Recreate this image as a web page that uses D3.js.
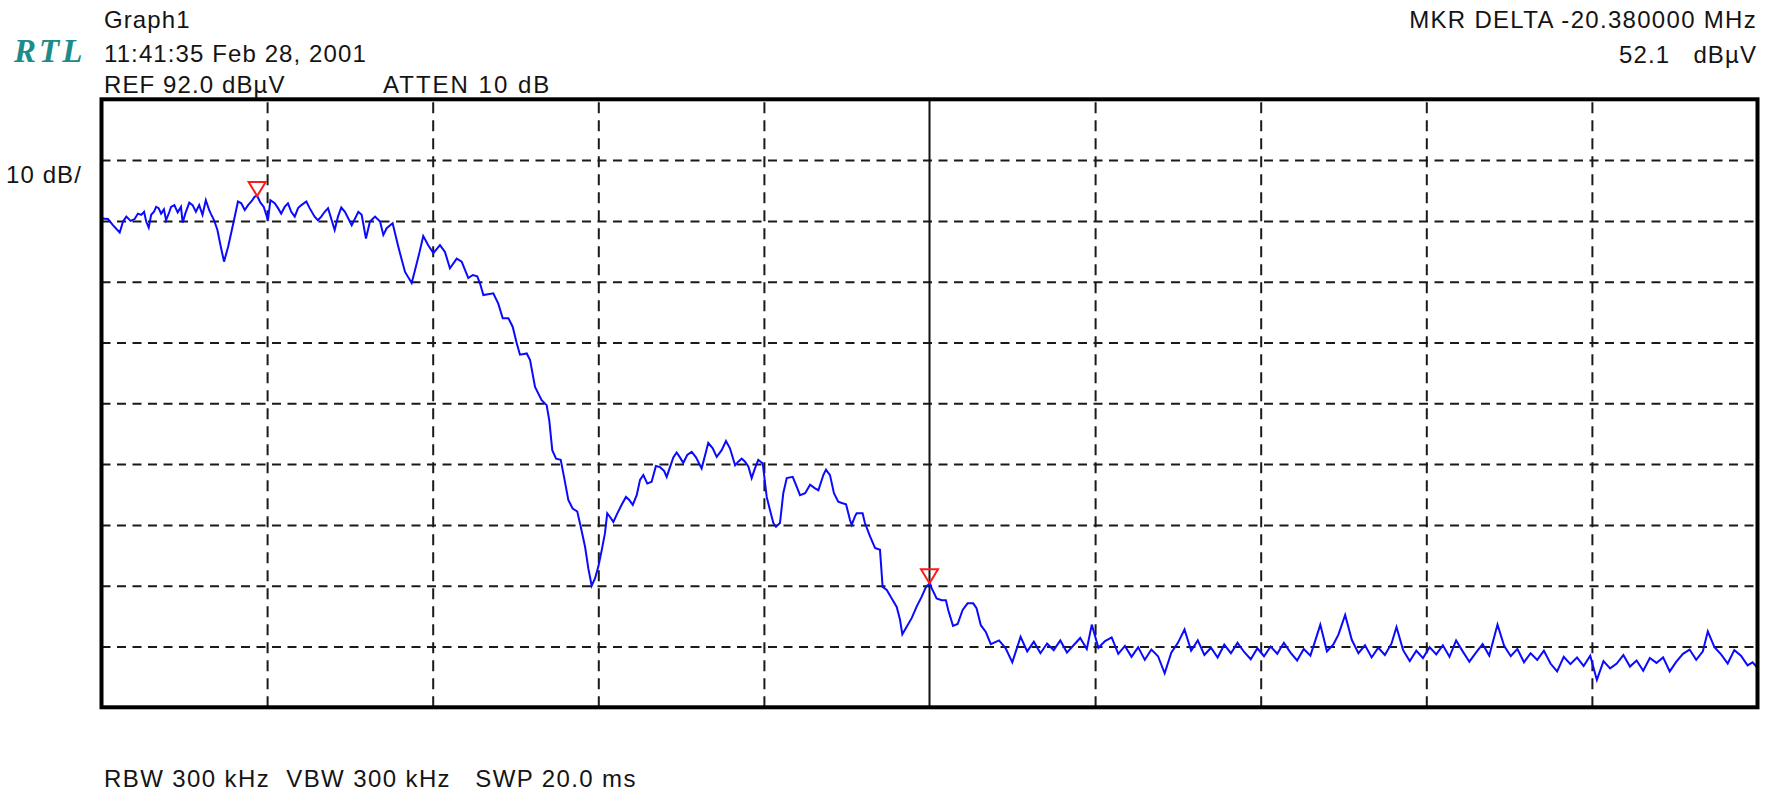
<!DOCTYPE html>
<html>
<head>
<meta charset="utf-8">
<script src="https://cdn.jsdelivr.net/npm/d3@7"></script>
<style>
  body { margin: 0; background: #fff; }
  text { font-family: "Liberation Sans", Arial, sans-serif; fill: #141414; font-size: 24px; letter-spacing: 1.1px; }
</style>
</head>
<body>
<div id="chart"></div>
<script>
// graticule: 10 columns (5 MHz each), REF 92 dBuV, 10 dB/div
const refLevel = 92;
const bottomLevel = -8;
const xGrid = [1, 2, 3, 4, 6, 7, 8, 9];
const yGrid = [2, 12, 22, 32, 42, 52, 62, 72, 82];

// trace position in graticule divisions
const traceX = [
  0.00, 0.039, 0.069, 0.11, 0.13, 0.15, 0.176, 0.20, 0.22, 0.24, 0.257, 0.27, 0.285, 0.30, 0.317,
  0.33, 0.345, 0.36, 0.377, 0.39, 0.41, 0.42, 0.44, 0.46, 0.48, 0.49, 0.506, 0.53, 0.55, 0.57,
  0.59, 0.61, 0.63, 0.65, 0.66, 0.68, 0.70, 0.72, 0.74, 0.765, 0.796, 0.824, 0.844, 0.865, 0.885,
  0.905, 0.925, 0.94, 0.96, 0.98, 1.005, 1.02, 1.046, 1.066, 1.085, 1.106, 1.126, 1.146, 1.167, 1.187,
  1.207, 1.237, 1.257, 1.287, 1.307, 1.327, 1.348, 1.368, 1.408, 1.428, 1.448, 1.47, 1.511, 1.551, 1.571,
  1.597, 1.621, 1.652, 1.682, 1.702, 1.722, 1.758, 1.792, 1.813, 1.833, 1.873, 1.893, 1.919, 1.943, 1.973,
  2.004, 2.044, 2.074, 2.104, 2.145, 2.175, 2.215, 2.242, 2.269, 2.286, 2.306, 2.366, 2.396, 2.423, 2.457,
  2.483, 2.507, 2.527, 2.568, 2.588, 2.618, 2.638, 2.658, 2.688, 2.704, 2.722, 2.745, 2.773, 2.793, 2.819,
  2.845, 2.873, 2.894, 2.920, 2.940, 2.960, 2.980, 3.000, 3.021, 3.040, 3.054, 3.071, 3.091, 3.115, 3.141,
  3.167, 3.187, 3.208, 3.232, 3.252, 3.272, 3.296, 3.322, 3.348, 3.373, 3.397, 3.413, 3.433, 3.453, 3.473,
  3.493, 3.513, 3.537, 3.564, 3.590, 3.624, 3.650, 3.664, 3.691, 3.715, 3.745, 3.771, 3.795, 3.826, 3.845,
  3.866, 3.886, 3.906, 3.926, 3.946, 3.966, 3.993, 4.017, 4.037, 4.057, 4.073, 4.097, 4.117, 4.138, 4.174,
  4.198, 4.218, 4.249, 4.279, 4.309, 4.329, 4.359, 4.375, 4.399, 4.423, 4.449, 4.470, 4.496, 4.520, 4.530,
  4.550, 4.560, 4.596, 4.610, 4.641, 4.671, 4.701, 4.717, 4.742, 4.772, 4.802, 4.822, 4.836, 4.893, 4.923,
  4.953, 4.979, 5.003, 5.013, 5.043, 5.074, 5.099, 5.113, 5.142, 5.17, 5.20, 5.23, 5.264, 5.284, 5.31,
  5.34, 5.37, 5.42, 5.46, 5.50, 5.55, 5.59, 5.63, 5.67, 5.71, 5.75, 5.79, 5.83, 5.87, 5.91,
  5.95, 5.98, 6.02, 6.06, 6.10, 6.14, 6.18, 6.22, 6.26, 6.30, 6.34, 6.38, 6.42, 6.46, 6.50,
  6.54, 6.58, 6.62, 6.66, 6.70, 6.74, 6.78, 6.82, 6.86, 6.90, 6.94, 6.98, 7.02, 7.06, 7.10,
  7.14, 7.18, 7.22, 7.26, 7.30, 7.33, 7.36, 7.40, 7.44, 7.47, 7.51, 7.55, 7.59, 7.63, 7.67,
  7.71, 7.75, 7.79, 7.82, 7.86, 7.90, 7.94, 7.98, 8.02, 8.06, 8.10, 8.14, 8.18, 8.22, 8.26,
  8.30, 8.34, 8.38, 8.43, 8.47, 8.51, 8.55, 8.59, 8.63, 8.67, 8.71, 8.75, 8.79, 8.83, 8.87,
  8.91, 8.95, 8.99, 9.03, 9.07, 9.11, 9.15, 9.19, 9.23, 9.27, 9.31, 9.35, 9.39, 9.43, 9.47,
  9.51, 9.55, 9.59, 9.63, 9.67, 9.70, 9.74, 9.78, 9.82, 9.86, 9.90, 9.94, 9.97, 10.0
];
// trace level, dBuV
const traceDb = [
  72.4, 72.3, 71.3, 70.1, 71.9, 72.7, 72.0, 72.3, 73.2, 73.0, 73.5, 71.9, 70.9, 73.0, 73.5,
  74.3, 74.1, 73.2, 73.9, 72.1, 73.5, 74.3, 74.6, 73.4, 74.3, 71.7, 73.2, 75.0, 74.6, 73.5,
  74.6, 73.0, 75.4, 73.8, 73.2, 72.1, 70.5, 67.8, 65.3, 67.8, 71.6, 75.2, 74.9, 73.8, 74.6,
  75.2, 76.0, 76.1, 75.0, 74.3, 72.1, 75.4, 74.9, 74.1, 73.2, 74.3, 74.9, 73.5, 72.7, 74.1,
  74.6, 75.2, 74.1, 72.7, 72.1, 72.7, 73.5, 74.1, 70.5, 72.7, 74.2, 73.5, 71.3, 73.5, 73.0,
  69.1, 71.9, 72.7, 71.9, 69.7, 70.8, 71.6, 67.8, 65.6, 63.6, 61.8, 63.9, 66.7, 69.5, 68.0,
  66.7, 68.0, 66.9, 64.2, 65.8, 65.3, 62.6, 63.1, 62.9, 61.7, 59.8, 60.1, 58.4, 56.0, 56.0,
  54.6, 51.9, 50.0, 50.2, 49.1, 44.7, 43.6, 42.5, 41.7, 39.2, 34.3, 32.9, 32.7, 29.9, 26.1,
  24.7, 24.2, 21.7, 18.4, 14.8, 12.0, 13.2, 15.1, 17.9, 20.6, 23.9, 23.3, 22.5, 23.9, 25.3,
  26.6, 26.1, 25.3, 26.9, 29.4, 30.2, 28.8, 29.1, 31.7, 31.5, 30.9, 29.9, 31.5, 33.1, 33.9,
  33.1, 32.2, 33.5, 34.0, 33.1, 31.3, 34.0, 35.5, 34.6, 33.2, 34.3, 35.8, 34.6, 31.8, 32.4,
  32.9, 32.4, 31.6, 29.7, 31.3, 32.7, 32.1, 26.6, 24.4, 22.3, 21.7, 22.3, 27.2, 29.7, 29.9,
  28.3, 26.9, 27.2, 28.6, 28.0, 27.7, 30.2, 31.1, 30.2, 27.2, 25.8, 25.6, 25.4, 22.8, 22.0,
  23.4, 23.9, 23.9, 22.3, 20.1, 18.2, 17.9, 11.8, 11.3, 9.9, 8.5, 6.4, 4.0, 6.7, 8.6,
  10.2, 11.8, 12.4, 11.6, 9.9, 9.6, 9.6, 8.0, 5.4, 5.7, 8.0, 9.1, 9.1, 8.3, 5.5,
  4.4, 2.4, 3.0, 1.7, -0.6, 3.6, 1.2, 2.8, 0.9, 2.5, 1.4, 3.0, 1.0, 2.2, 3.4,
  1.6, 5.6, 1.8, 2.9, 3.5, 0.8, 2.1, 0.3, 1.9, -0.2, 1.5, 0.4, -2.4, 1.0, 2.6,
  4.8, 1.3, 3.0, 0.6, 1.8, 0.2, 2.3, 0.9, 2.6, 1.1, -0.1, 1.7, 0.4, 2.0, 0.8,
  2.6, 1.0, -0.3, 1.6, 0.5, 3.0, 5.6, 1.2, 2.4, 4.0, 7.2, 3.1, 0.9, 2.2, 0.2,
  1.8, 0.6, 2.5, 5.2, 1.4, -0.4, 1.3, 0.1, 1.9, 0.7, 2.2, 0.3, 3.0, 1.2, -0.5,
  1.0, 2.4, 0.5, 5.6, 2.1, 0.4, 1.6, -0.6, 0.9, -0.2, 1.3, -0.8, -2.1, 0.3, -0.9,
  0.2, -1.2, 0.5, -3.5, -0.4, -1.6, -0.8, 0.6, -1.3, -0.3, -2.0, 0.1, -0.7, 0.2, -2.1,
  -0.5, 0.8, 1.5, -0.2, 1.2, 4.5, 1.9, 0.7, -0.8, 1.4, 0.5, -1.1, -0.6, -1.5
];

const markerX = [0.94, 5.0];
const markerDb = [76.1, 12.4];

const width = 1769;
const height = 794;

const x = d3.scaleLinear().domain([0, 10]).range([101.5, 1757.5]);
const y = d3.scaleLinear().domain([bottomLevel, refLevel]).range([707.3, 99.3]);

const svg = d3.select('#chart').append('svg')
  .attr('width', width)
  .attr('height', height);

// vertical dashed graticule
svg.append('g')
  .attr('transform', `translate(0,${y(bottomLevel)})`)
  .call(d3.axisBottom(x).tickValues(xGrid).tickSize(-(y(bottomLevel) - y(refLevel))).tickFormat(''))
  .call(g => g.select('.domain').remove())
  .selectAll('line')
  .attr('stroke', '#1a1a1a')
  .attr('stroke-width', 2)
  .attr('stroke-dasharray', '11 7');

// horizontal dashed graticule
svg.append('g')
  .attr('transform', `translate(${x(0)},0)`)
  .call(d3.axisLeft(y).tickValues(yGrid).tickSize(-(x(10) - x(0))).tickFormat(''))
  .call(g => g.select('.domain').remove())
  .selectAll('line')
  .attr('stroke', '#1a1a1a')
  .attr('stroke-width', 2)
  .attr('stroke-dasharray', '9 6.5');

// solid centre line (delta marker)
svg.append('line')
  .attr('x1', x(5)).attr('x2', x(5))
  .attr('y1', y(refLevel)).attr('y2', y(bottomLevel))
  .attr('stroke', '#111')
  .attr('stroke-width', 2);

// trace
const points = traceX.map((v, i) => [v, traceDb[i]]);
const line = d3.line()
  .x(d => x(d[0]))
  .y(d => y(d[1]));

svg.append('path')
  .datum(points)
  .attr('d', line)
  .attr('fill', 'none')
  .attr('stroke', '#0a0aff')
  .attr('stroke-width', 2)
  .attr('stroke-linejoin', 'miter');

// markers
svg.selectAll('.marker')
  .data(markerX.map((v, i) => [v, markerDb[i]]))
  .enter().append('path')
  .attr('class', 'marker')
  .attr('d', d => {
    const mx = x(d[0]), my = y(d[1]);
    return `M${mx},${my}L${mx - 8.5},${my - 14}L${mx + 8.5},${my - 14}Z`;
  })
  .attr('fill', 'none')
  .attr('stroke', '#ff1a1a')
  .attr('stroke-width', 2);

// frame
svg.append('rect')
  .attr('x', x(0)).attr('y', y(refLevel))
  .attr('width', x(10) - x(0))
  .attr('height', y(bottomLevel) - y(refLevel))
  .attr('fill', 'none')
  .attr('stroke', '#000')
  .attr('stroke-width', 4);

// header and footer text
svg.append('text')
  .attr('x', 14).attr('y', 62)
  .style('font-family', '"Liberation Serif", "Times New Roman", serif')
  .style('font-weight', 'bold')
  .style('font-style', 'italic')
  .style('font-size', '33px')
  .style('letter-spacing', '3px')
  .style('fill', '#1e8b8b')
  .text('RTL');

const leftLines = [
  { t: 'Graph1', y: 28 },
  { t: '11:41:35 Feb 28, 2001', y: 62 },
  { t: 'REF 92.0 dBµV', y: 93 }
];
svg.selectAll('.hdr')
  .data(leftLines)
  .enter().append('text')
  .attr('class', 'hdr')
  .attr('x', 104).attr('y', d => d.y)
  .text(d => d.t);

svg.append('text')
  .attr('x', 383).attr('y', 93)
  .style('letter-spacing', '2px')
  .text('ATTEN 10 dB');

svg.append('text')
  .attr('x', 1757).attr('y', 28)
  .attr('text-anchor', 'end')
  .style('letter-spacing', '1.3px')
  .text('MKR DELTA -20.380000 MHz');

svg.append('text')
  .attr('x', 1757).attr('y', 63)
  .attr('text-anchor', 'end')
  .style('white-space', 'pre')
  .text('52.1   dBµV');

svg.append('text')
  .attr('x', 6).attr('y', 183)
  .text('10 dB/');

svg.append('text')
  .attr('x', 104).attr('y', 787)
  .style('letter-spacing', '1.4px')
  .style('white-space', 'pre')
  .text('RBW 300 kHz  VBW 300 kHz   SWP 20.0 ms');
</script>
</body>
</html>
